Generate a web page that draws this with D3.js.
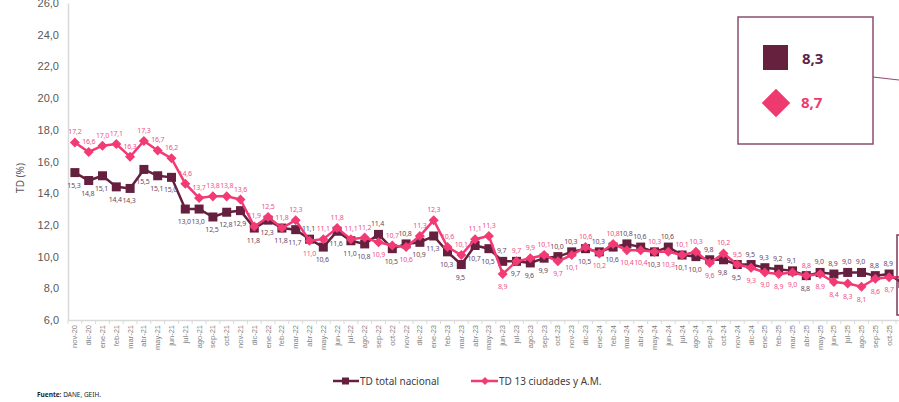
<!DOCTYPE html>
<html>
<head>
<meta charset="utf-8">
<script src="https://cdn.jsdelivr.net/npm/d3@7"></script>
<style>
  body { margin: 0; background: #fff; }
  svg { display: block; font-family: "Noto Sans", "Open Sans", sans-serif; }
</style>
</head>
<body>
<div id="chart-area"></div>
<script>
// meses nov-20 .. nov-25 (el ultimo queda fuera del recorte)
var meses = ["nov-20","dic-20","ene-21","feb-21","mar-21","abr-21","may-21","jun-21","jul-21","ago-21","sep-21","oct-21",
	"nov-21","dic-21","ene-22","feb-22","mar-22","abr-22","may-22","jun-22","jul-22","ago-22","sep-22","oct-22",
	"nov-22","dic-22","ene-23","feb-23","mar-23","abr-23","may-23","jun-23","jul-23","ago-23","sep-23","oct-23",
	"nov-23","dic-23","ene-24","feb-24","mar-24","abr-24","may-24","jun-24","jul-24","ago-24","sep-24","oct-24",
	"nov-24","dic-24","ene-25","feb-25","mar-25","abr-25","may-25","jun-25","jul-25","ago-25","sep-25","oct-25","nov-25"];

var tdNacional = [15.3,14.8,15.1,14.4,14.3,15.5,15.1,15.0,13.0,13.0,
	12.5,12.8,12.9,11.8,12.3,11.8,11.7,11.1,10.6,11.6,
	11.0,10.8,11.4,10.5,10.8,10.9,11.3,10.3,9.5,10.7,
	10.5,9.7,9.7,9.6,9.9,10.0,10.3,10.5,10.3,10.6,
	10.8,10.6,10.3,10.6,10.1,10.0,9.8,9.8,9.5,9.5,
	9.3,9.2,9.1,8.8,9.0,8.9,9.0,9.0,8.8,8.9,
	8.3];

var td13 = [17.2,16.6,17.0,17.1,16.3,17.3,16.7,16.2,14.6,13.7,
	13.8,13.8,13.6,11.9,12.5,11.8,12.3,11.0,11.1,11.8,
	11.1,11.2,10.9,10.7,10.6,11.3,12.3,10.6,10.1,11.1,
	11.3,8.9,9.7,9.9,10.1,9.7,10.1,10.6,10.2,10.8,
	10.4,10.4,10.3,10.3,10.1,10.3,9.6,10.2,9.5,9.3,
	9.0,8.9,9.0,8.8,8.9,8.4,8.3,8.1,8.6,8.7,
	8.7];

var yTicks = [6,8,10,12,14,16,18,20,22,24,26];

var ultimoNacional = "8,3";
var ultimo13 = "8,7";

var width = 899, height = 402;
var colNac = "#66203f", colCiu = "#f23a74";
var colNacTxt = "#6b4760", colCiuTxt = "#f0508a";

var fmt = function(v){ return d3.format(".1f")(v).replace(".", ","); };

var svg = d3.select("#chart-area").append("svg")
	.attr("width", width)
	.attr("height", height);

var x = d3.scaleBand()
	.domain(meses)
	.range([68, 68 + meses.length * 13.8]);

var y = d3.scaleLinear()
	.domain([6, 26])
	.range([320, 3]);

var cx = function(i){ return x(meses[i]) + x.bandwidth() / 2; };

// eje y
var yAxis = svg.append("g")
	.attr("transform", "translate(68,0)")
	.call(d3.axisLeft(y).tickValues(yTicks).tickFormat(fmt).tickSize(0).tickPadding(9));
yAxis.select(".domain").attr("stroke", "#d9d9d9").attr("stroke-width", 1.5);
yAxis.selectAll("text").attr("fill", "#595959").style("font-size", "11px");

svg.append("text")
	.attr("transform", "translate(24,178) rotate(-90)")
	.attr("text-anchor", "middle")
	.attr("fill", "#595959")
	.style("font-size", "10px")
	.text("TD (%)");

// eje x (la etiqueta de nov-25 cae fuera del recorte)
var xAxis = svg.append("g")
	.attr("transform", "translate(0,320)")
	.call(d3.axisBottom(x).tickValues(meses.slice(0, 60)).tickSize(0).tickPadding(0));
xAxis.select(".domain").attr("stroke", "#d9d9d9").attr("stroke-width", 1.5);
xAxis.selectAll(".tick text")
	.attr("transform", "rotate(-90)")
	.attr("text-anchor", "end")
	.attr("x", -5)
	.attr("y", 0)
	.attr("dy", "0.32em")
	.attr("fill", "#7f7f7f")
	.style("font-size", "7.5px");

svg.append("g").selectAll("line")
	.data(meses)
	.enter().append("line")
		.attr("x1", function(d){ return x(d); })
		.attr("x2", function(d){ return x(d); })
		.attr("y1", 320)
		.attr("y2", 324)
		.attr("stroke", "#d9d9d9");

// lineas
var linea = function(serie){
	return d3.line()
		.x(function(d, i){ return cx(i); })
		.y(function(d){ return y(d); })(serie);
};

svg.append("path")
	.attr("d", linea(tdNacional))
	.attr("fill", "none")
	.attr("stroke", colNac)
	.attr("stroke-width", 2.5);

svg.append("g").selectAll("rect")
	.data(tdNacional)
	.enter().append("rect")
		.attr("x", function(d, i){ return cx(i) - 4.5; })
		.attr("y", function(d){ return y(d) - 4.5; })
		.attr("width", 9)
		.attr("height", 9)
		.attr("fill", colNac);

svg.append("path")
	.attr("d", linea(td13))
	.attr("fill", "none")
	.attr("stroke", colCiu)
	.attr("stroke-width", 2.5);

svg.append("g").selectAll("path")
	.data(td13)
	.enter().append("path")
		.attr("d", d3.symbol(d3.symbolDiamond2, 64))
		.attr("transform", function(d, i){ return "translate(" + cx(i) + "," + y(d) + ")"; })
		.attr("fill", colCiu);

// etiquetas de datos (sin el ultimo mes)
var nacArriba = function(i){ return tdNacional[i] > td13[i]; };

svg.append("g").selectAll("text")
	.data(tdNacional.slice(0, 60))
	.enter().append("text")
		.attr("x", function(d, i){ return cx(i) - 1; })
		.attr("y", function(d, i){ return nacArriba(i) ? y(d) - 8 : y(d) + 15; })
		.attr("text-anchor", "middle")
		.attr("fill", colNacTxt)
		.style("font-size", "7px")
		.style("letter-spacing", "-0.2px")
		.text(fmt);

svg.append("g").selectAll("text")
	.data(td13.slice(0, 60))
	.enter().append("text")
		.attr("x", function(d, i){ return cx(i); })
		.attr("y", function(d, i){ return nacArriba(i) ? y(d) + 15 : y(d) - 8; })
		.attr("text-anchor", "middle")
		.attr("fill", colCiuTxt)
		.style("font-size", "7px")
		.style("letter-spacing", "-0.2px")
		.text(fmt);

// recuadro del ultimo dato
svg.append("rect")
	.attr("x", 738).attr("y", 17)
	.attr("width", 135).attr("height", 127)
	.attr("fill", "#fff")
	.attr("stroke", "#8c4d70")
	.attr("stroke-width", 1.5);

svg.append("line")
	.attr("x1", 873).attr("y1", 77).attr("x2", 899).attr("y2", 80)
	.attr("stroke", "#8c4d70").attr("stroke-width", 1.2);

svg.append("path")
	.attr("d", "M899,235 H897 V315 H899")
	.attr("fill", "none")
	.attr("stroke", "#7a3a5e")
	.attr("stroke-width", 1.5);

svg.append("rect")
	.attr("x", 763).attr("y", 45)
	.attr("width", 25).attr("height", 25)
	.attr("fill", "#66213f");

svg.append("text")
	.attr("x", 802).attr("y", 64)
	.attr("fill", "#5e2446")
	.style("font-size", "15px")
	.style("font-weight", "bold")
	.text(ultimoNacional);

svg.append("path")
	.attr("d", d3.symbol(d3.symbolDiamond2, 520))
	.attr("transform", "translate(776,103)")
	.attr("fill", "#ee3a6e");

svg.append("text")
	.attr("x", 801).attr("y", 108)
	.attr("fill", "#ee3a6e")
	.style("font-size", "15px")
	.style("font-weight", "bold")
	.text(ultimo13);

// leyenda
var leyenda = svg.append("g").style("font-size", "10px").attr("fill", "#404040");

leyenda.append("line")
	.attr("x1", 333).attr("x2", 359).attr("y1", 381).attr("y2", 381)
	.attr("stroke", colNac).attr("stroke-width", 2.5);
leyenda.append("rect")
	.attr("x", 342).attr("y", 377.5).attr("width", 7).attr("height", 7)
	.attr("fill", colNac);
leyenda.append("text")
	.attr("x", 360).attr("y", 385)
	.text("TD total nacional");

leyenda.append("line")
	.attr("x1", 471).attr("x2", 498).attr("y1", 381).attr("y2", 381)
	.attr("stroke", colCiu).attr("stroke-width", 2.5);
leyenda.append("path")
	.attr("d", d3.symbol(d3.symbolDiamond2, 40))
	.attr("transform", "translate(485,381)")
	.attr("fill", colCiu);
leyenda.append("text")
	.attr("x", 499).attr("y", 385)
	.text("TD 13 ciudades y A.M.");

var fuente = svg.append("text")
	.attr("x", 37).attr("y", 397)
	.attr("fill", "#222")
	.style("font-size", "6.5px");
fuente.append("tspan").style("font-weight", "bold").text("Fuente:");
fuente.append("tspan").text(" DANE, GEIH.");
</script>
</body>
</html>
